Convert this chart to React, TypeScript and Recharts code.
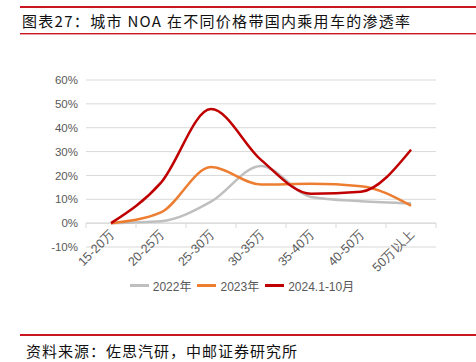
import React from "react";
import { LineChart, Line, XAxis, YAxis, CartesianGrid, ReferenceLine } from "recharts";

const categories = ["15-20万", "20-25万", "25-30万", "30-35万", "35-40万", "40-50万", "50万以上"];
const y2022 = [0, 0.8, 9, 24, 11, 9.2, 8.3];
const y2023 = [0, 4.5, 23.5, 16.2, 16.5, 15.5, 7.3];
const y2024 = [0, 17, 47.8, 26.5, 12.3, 13.2, 30.8];
const yTicks = [-10, 0, 10, 20, 30, 40, 50, 60];

const series = [
  { key: "y2022", name: "2022年", color: "#BFBFBF" },
  { key: "y2023", name: "2023年", color: "#ED7D31" },
  { key: "y2024", name: "2024.1-10月", color: "#C00000" },
];

const data = categories.map((c, i) => ({ cat: c, y2022: y2022[i], y2023: y2023[i], y2024: y2024[i] }));

const axisFont = "'Liberation Sans', Arial, sans-serif";
const cjkFont = "'Noto Sans CJK SC', sans-serif";
const BAND = 50; // 350px plot / 7 categories
const ZERO_UP = 24; // distance from plot bottom (-10%) up to the 0% line

function XTick(props: any) {
  const { x, y, payload, index } = props;
  const y0 = y - ZERO_UP;
  const ax = x + 4;
  const ay = y0 + 12;
  return (
    <g>
      <line x1={x - BAND / 2} x2={x - BAND / 2} y1={y0} y2={y0 + 5} stroke="#D9D9D9" />
      {index === categories.length - 1 && (
        <line x1={x + BAND / 2} x2={x + BAND / 2} y1={y0} y2={y0 + 5} stroke="#D9D9D9" />
      )}
      <text x={ax} y={ay} textAnchor="end" transform={`rotate(-45, ${ax}, ${ay})`}
        fontSize={12.5} fill="#595959" fontFamily={axisFont}>
        {payload.value}
      </text>
    </g>
  );
}

export default function App() {
  return (
    <div style={{ position: "absolute", left: 0, top: 0, width: 476, height: 362, background: "#fff", overflow: "hidden" }}>
      <div style={{ position: "absolute", left: 20, top: 6, width: 456, height: 2, background: "#C8171E" }} />
      <div style={{ position: "absolute", left: 22, top: 10, fontFamily: cjkFont, fontSize: 15, color: "#111", letterSpacing: 1.3, whiteSpace: "nowrap" }}>
        图表27：城市 NOA 在不同价格带国内乘用车的渗透率
      </div>
      <div style={{ position: "absolute", left: 20, top: 33, width: 456, height: 1, background: "#C8171E" }} />
      <div style={{ position: "absolute", left: 20, top: 34, width: 456, height: 1, background: "#E8A0A0" }} />

      <div style={{ position: "absolute", left: 0, top: 0 }}>
        <LineChart width={476} height={300} data={data} margin={{ top: 80, right: 40, bottom: 23, left: 0 }}>
          <CartesianGrid vertical={false} stroke="#D9D9D9" />
          <XAxis dataKey="cat" axisLine={false} tickLine={false} tickSize={0} tickMargin={0} height={30}
            interval={0} padding={{ left: BAND / 2, right: BAND / 2 }} tick={<XTick />} />
          <YAxis domain={[-10, 60]} ticks={yTicks} axisLine={false} tickLine={false} width={86}
            tickFormatter={(v: number) => `${v}%`}
            tick={{ fontSize: 11.5, fill: "#595959", fontFamily: axisFont }} />
          <ReferenceLine y={0} stroke="#D9D9D9" />
          {series.map((s) => (
            <Line key={s.key} type="monotone" dataKey={s.key} name={s.name} stroke={s.color}
              strokeWidth={2.5} dot={false} isAnimationActive={false} />
          ))}
        </LineChart>
      </div>

      <div style={{ position: "absolute", left: 0, width: 476, top: 277, display: "flex", justifyContent: "center", paddingLeft: 14, boxSizing: "border-box",
        fontFamily: axisFont, fontSize: 12, color: "#595959" }}>
        {series.map((s) => (
          <div key={s.key} style={{ display: "flex", alignItems: "center", marginRight: 6 }}>
            <span style={{ display: "inline-block", width: 19, height: 3, background: s.color, marginRight: 4 }} />
            <span style={{ fontFamily: `${axisFont}, ${cjkFont}` }}>{s.name}</span>
          </div>
        ))}
      </div>

      <div style={{ position: "absolute", left: 20, top: 334, width: 456, height: 2, background: "#C8171E" }} />
      <div style={{ position: "absolute", left: 26, top: 340, fontFamily: cjkFont, fontSize: 15, color: "#111", letterSpacing: 1, whiteSpace: "nowrap" }}>
        资料来源：佐思汽研，中邮证券研究所
      </div>
    </div>
  );
}
